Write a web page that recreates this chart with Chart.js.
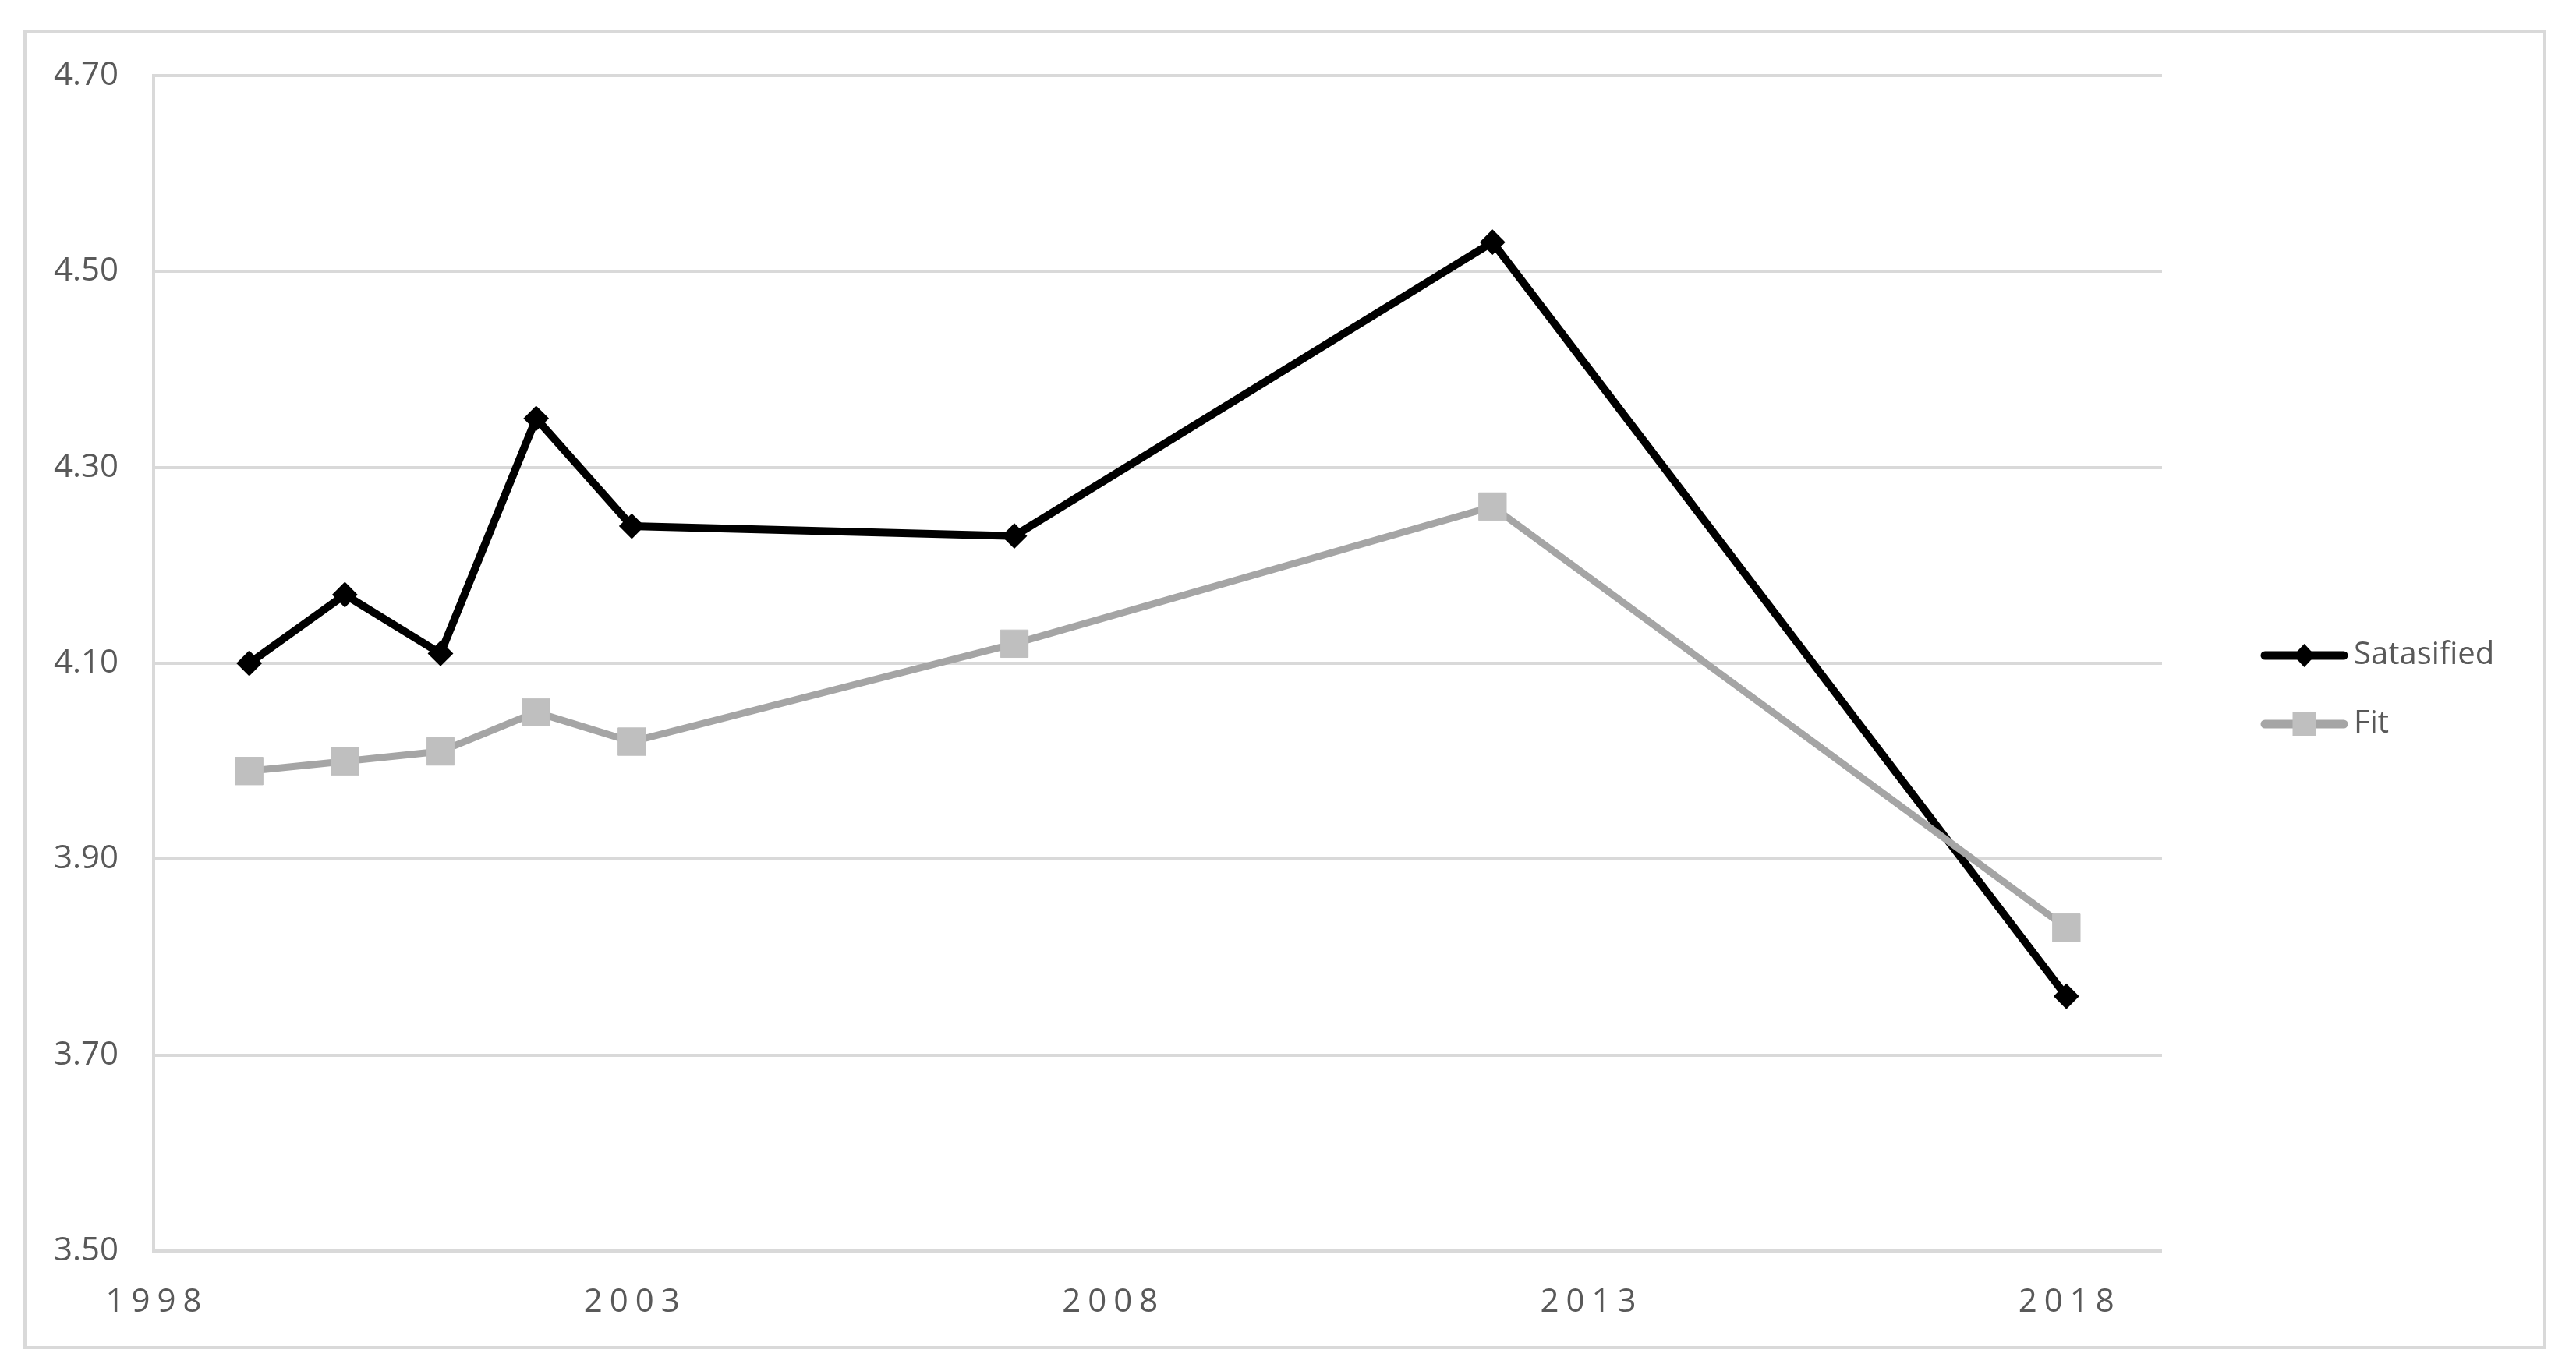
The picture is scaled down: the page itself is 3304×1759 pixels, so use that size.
<!DOCTYPE html>
<html>
<head>
<meta charset="utf-8">
<script src="https://cdn.jsdelivr.net/npm/chart.js@4.4.1/dist/chart.umd.min.js"></script>
<style>
  html, body { margin: 0; padding: 0; background: #fff; }
  #frame {
    position: absolute; left: 30px; top: 38px;
    width: 3236px; height: 1693px;
    border: 4px solid #d9d9d9; box-sizing: border-box;
  }
  #chart { display: block; }
</style>
</head>
<body>
<div id="frame"><canvas id="chart" width="3228" height="1685"></canvas></div>
<script>
const years = [1999, 2000, 2001, 2002, 2003, 2007, 2012, 2018];
const satisfied = [4.10, 4.17, 4.11, 4.35, 4.24, 4.23, 4.53, 3.76];
const fit = [3.99, 4.00, 4.01, 4.05, 4.02, 4.12, 4.26, 3.83];
const xTickLabels = [1998, 2003, 2008, 2013, 2018];
const seriesNames = ['Satasified', 'Fit'];

const TEXT = '#595959';
const GRID = '#d9d9d9';

// legend swatch: a short line with the marker in the middle
function swatch(lineColor, markerColor, shape) {
    const c = document.createElement('canvas');
    c.width = 202; c.height = 40;
    const g = c.getContext('2d');
    g.strokeStyle = lineColor;
    g.lineWidth = 11;
    g.lineCap = 'round';
    g.beginPath(); g.moveTo(96, 20); g.lineTo(197, 20); g.stroke();
    const cx = 146.5, cy = 20;
    g.fillStyle = markerColor;
    g.beginPath();
    if (shape === 'diamond') {
        g.moveTo(cx - 14, cy); g.lineTo(cx, cy - 15); g.lineTo(cx + 14, cy); g.lineTo(cx, cy + 15);
        g.closePath();
    } else {
        g.rect(cx - 15, cy - 15, 30, 30);
    }
    g.fill();
    return c;
}

const swatches = [swatch('#000000', '#000000', 'diamond'), swatch('#a5a5a5', '#bfbfbf', 'square')];

const xLabels = {
    id: 'xLabels',
    afterDraw(chart) {
        const sc = chart.scales.x;
        const ctx = chart.ctx;
        ctx.save();
        ctx.font = '42px "Open Sans"';
        ctx.fillStyle = TEXT;
        ctx.textAlign = 'center';
        ctx.textBaseline = 'middle';
        ctx.letterSpacing = '9px';
        sc.ticks.forEach(t => {
            ctx.fillText(String(t.value), sc.getPixelForValue(t.value) + 4.5, sc.top + 66);
        });
        ctx.restore();
    }
};

const legendWidth = {
    id: 'legendWidth',
    beforeInit(chart) {
        const orig = chart.legend.fit;
        chart.legend.fit = function () {
            orig.bind(chart.legend)();
            this.width = 489;
        };
    }
};

new Chart(document.getElementById('chart'), {
    type: 'scatter',
    data: {
        datasets: [
            {
                label: seriesNames[0],
                data: years.map((x, i) => ({ x, y: satisfied[i] })),
                showLine: true,
                borderColor: '#000000',
                borderWidth: 10,
                pointStyle: 'rectRot',
                pointRadius: 15,
                pointBackgroundColor: '#000000',
                pointBorderColor: '#000000',
                pointBorderWidth: 2,
                order: 1
            },
            {
                label: seriesNames[1],
                data: years.map((x, i) => ({ x, y: fit[i] })),
                showLine: true,
                borderColor: '#a5a5a5',
                borderWidth: 9,
                pointStyle: 'rect',
                pointRadius: 25,
                pointBackgroundColor: '#bfbfbf',
                pointBorderColor: '#bfbfbf',
                pointBorderWidth: 1,
                order: 0
            }
        ]
    },
    options: {
        responsive: false,
        animation: false,
        events: [],
        layout: { padding: { top: 40, bottom: 39, left: 0, right: 0 } },
        plugins: {
            tooltip: { enabled: false },
            legend: {
                position: 'right',
                labels: {
                    usePointStyle: true,
                    pointStyleWidth: 178,
                    padding: 48,
                    color: TEXT,
                    font: { family: '"Open Sans"', size: 40 },
                    generateLabels: () => seriesNames.map((name, i) => ({
                        text: name,
                        pointStyle: swatches[i],
                        fillStyle: 'transparent',
                        strokeStyle: 'transparent',
                        lineWidth: 0,
                        fontColor: TEXT,
                        datasetIndex: i
                    }))
                }
            }
        },
        scales: {
            x: {
                type: 'linear',
                min: 1998,
                max: 2019,
                afterBuildTicks: sc => { sc.ticks = xTickLabels.map(v => ({ value: v })); },
                afterFit: sc => { sc.height = 83; },
                ticks: { display: false },
                grid: { display: false },
                border: { display: false }
            },
            y: {
                min: 3.5,
                max: 4.7,
                afterFit: sc => {
                    sc.width = 163;
                    sc.paddingTop = 55;
                    sc.paddingBottom = 0;
                },
                ticks: {
                    stepSize: 0.2,
                    padding: 45,
                    color: TEXT,
                    font: { family: '"Open Sans"', size: 42 },
                    callback: v => v.toFixed(2)
                },
                grid: { color: GRID, lineWidth: 4, drawTicks: false },
                border: { display: true, color: GRID, width: 4 }
            }
        }
    },
    plugins: [xLabels, legendWidth]
});
</script>
</body>
</html>
